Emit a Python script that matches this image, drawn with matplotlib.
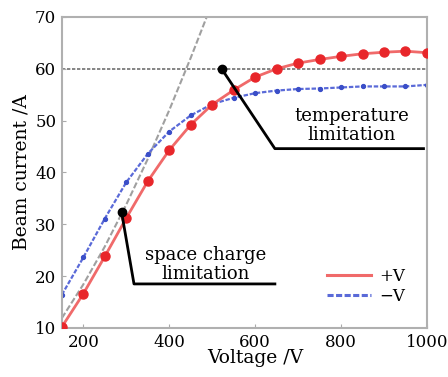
import matplotlib.pyplot as plt

# measured beam current vs voltage
voltage = [150, 200, 250, 300, 350, 400, 450, 500, 550, 600,
           650, 700, 750, 800, 850, 900, 950, 1000]
current_pos = [10.2, 16.6, 23.8, 31.2, 38.3, 44.3, 49.2, 53.1, 55.9, 58.4,
               60.0, 61.1, 61.8, 62.4, 62.9, 63.2, 63.4, 63.1]
current_neg = [16.4, 23.6, 31.1, 38.1, 43.6, 47.9, 51.0, 53.2, 54.4, 55.3,
               55.8, 56.1, 56.2, 56.4, 56.6, 56.6, 56.6, 56.9]

# space charge limit curve (gray dashed)
sc_voltage = [150, 200, 250, 300, 350, 400, 450, 500]
sc_current = [11.9, 18.4, 25.7, 33.8, 42.6, 52.0, 62.1, 72.7]

temp_limit = 60

plt.rcParams['font.family'] = ['DejaVu Serif']

fig = plt.figure(figsize=(4.48, 3.77), dpi=100)
ax = fig.add_axes([0.138, 0.13, 0.815, 0.825])

ax.plot(sc_voltage, sc_current, color='#a0a0a0', lw=1.5, ls=(0, (3, 1.2)), zorder=1)
ax.axhline(temp_limit, color='#707070', lw=1.2, ls=(0, (2, 1)), zorder=1)

ax.plot(voltage, current_pos, color='#f06a6a', lw=2, marker='o', ms=6.5,
        mfc='#e8262a', mec='#e8262a', label='+V', zorder=3)
ax.plot(voltage, current_neg, color='#5a6ad8', lw=1.6, ls=(0, (2, 0.8)), marker='o', ms=2.8,
        mfc='#3a4ec8', mec='#3a4ec8', label='\u2212V', zorder=2)

# annotations
ax.plot([522, 646, 992], [60, 44.6, 44.6], color='black', lw=2, zorder=4)
ax.plot([522], [60], 'o', color='black', ms=6, zorder=5)
ax.text(825, 49.1, 'temperature\nlimitation', ha='center', va='center',
        fontsize=13, linespacing=1.05)

ax.plot([289, 318, 646], [32.4, 18.5, 18.5], color='black', lw=2, zorder=4)
ax.plot([289], [32.4], 'o', color='black', ms=6, zorder=5)
ax.text(485, 22.3, 'space charge\nlimitation', ha='center', va='center',
        fontsize=13, linespacing=1.05)

ax.set_xlim(150, 1000)
ax.set_ylim(10, 70)
ax.set_xticks([200, 400, 600, 800, 1000])
ax.set_yticks([10, 20, 30, 40, 50, 60, 70])
ax.tick_params(direction='in', length=3, color='#aaaaaa', labelsize=12, pad=4)
for s in ax.spines.values():
    s.set_color('#b0b0b0')
    s.set_linewidth(1.5)

ax.set_xlabel('Voltage /V', fontsize=13.5)
ax.xaxis.set_label_coords(0.53, -0.068)
ax.set_ylabel('Beam current /A', fontsize=13.5, labelpad=3)

leg = ax.legend(loc='lower right', frameon=False, fontsize=12, handlelength=2.6,
                handletextpad=0.5, labelspacing=0.15, borderpad=0, borderaxespad=0,
                bbox_to_anchor=(0.94, 0.075))
for h in leg.get_lines():
    h.set_marker('')
    h.set_linewidth(2.2)

fig.savefig('out.png', dpi=100)
